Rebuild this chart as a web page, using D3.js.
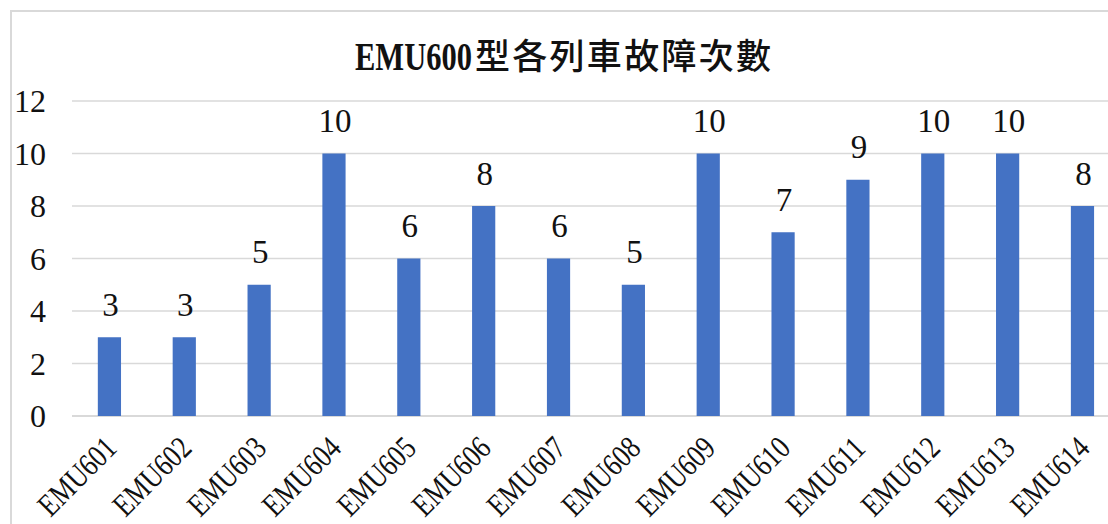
<!DOCTYPE html>
<html>
<head>
<meta charset="utf-8">
<script src="https://cdn.jsdelivr.net/npm/d3@7"></script>
<style>
  html, body { margin: 0; padding: 0; background: #fff; overflow: hidden; }
  svg { display: block; }
</style>
</head>
<body>
<svg id="chart" width="1108" height="524"></svg>
<script>
const titleLatin = "EMU600";
const titleCJK = "型各列車故障次數";
const categories = ["EMU601","EMU602","EMU603","EMU604","EMU605","EMU606","EMU607","EMU608","EMU609","EMU610","EMU611","EMU612","EMU613","EMU614"];
const failures = [3,3,5,10,6,8,6,5,10,7,9,10,10,8];
const yTicks = [0,2,4,6,8,10,12];

const svg = d3.select("#chart");
const W = 1108, H = 524;
const serif = "'Liberation Serif','DejaVu Serif',serif";
const cjk = "'Noto Sans CJK TC','Noto Sans CJK SC',sans-serif";

// outer frame (chart area continues beyond the window)
svg.append("path")
  .attr("d", `M11,${H} L11,11 L${W},11`)
  .attr("fill", "none")
  .attr("stroke", "#d9d9d9")
  .attr("stroke-width", 2);

const plotLeft = 72, step = 74.85;
const x = d3.scaleBand()
  .domain(categories)
  .range([plotLeft, plotLeft + step * categories.length])
  .paddingInner(0.69)
  .paddingOuter(0.345);
const y = d3.scaleLinear().domain([0, 12]).range([416, 101]);

// gridlines
svg.append("g").selectAll("line")
  .data(yTicks)
  .join("line")
  .attr("x1", plotLeft)
  .attr("x2", W)
  .attr("y1", d => y(d))
  .attr("y2", d => y(d))
  .attr("stroke", "#d9d9d9")
  .attr("stroke-width", d => d === 0 ? 2 : 1.5);

// half-width text helper
function halfText(g, str, size, anchorEndX, baseY, opts = {}) {
  const len = str.length * size * 0.5;
  return g.append("text")
    .attr("x", anchorEndX - len)
    .attr("y", baseY)
    .attr("font-family", serif)
    .attr("font-size", size)
    .attr("font-weight", opts.weight || "normal")
    .attr("fill", "#111")
    .attr("textLength", len)
    .attr("lengthAdjust", "spacingAndGlyphs")
    .text(str);
}

// y tick labels
const yg = svg.append("g");
yTicks.forEach(t => {
  halfText(yg, String(t), 32, 46, y(t) + 11);
});

// bars
svg.append("g").selectAll("rect")
  .data(categories)
  .join("rect")
  .attr("x", d => x(d))
  .attr("y", (d, i) => y(failures[i]))
  .attr("width", x.bandwidth())
  .attr("height", (d, i) => y(0) - y(failures[i]))
  .attr("fill", "#4472C4");

// data labels
const lg = svg.append("g");
categories.forEach((c, i) => {
  const s = String(failures[i]);
  const size = 33;
  const len = s.length * size * 0.5;
  const cx = x(c) + x.bandwidth() / 2 + 1;
  halfText(lg, s, size, cx + len / 2, y(failures[i]) - 21.5);
});

// x labels rotated
const xg = svg.append("g");
categories.forEach(c => {
  const cx = x(c) + x.bandwidth() / 2;
  const g = xg.append("g").attr("transform", `translate(${cx + 9},450) rotate(-45)`);
  halfText(g, c, 32, 0, 0);
});

// title
const tSize = 39;
const latinLen = titleLatin.length * tSize * 0.5;
const cjkLen = 300;
const gap = 3;
const total = latinLen + cjkLen + gap;
const tStart = 565 - total / 2;
svg.append("text")
  .attr("x", tStart)
  .attr("y", 69.5)
  .attr("font-family", serif)
  .attr("font-size", tSize)
  .attr("font-weight", "bold")
  .attr("fill", "#111")
  .attr("textLength", latinLen)
  .attr("lengthAdjust", "spacingAndGlyphs")
  .text(titleLatin);
svg.append("text")
  .attr("x", tStart + latinLen + gap)
  .attr("y", 69)
  .attr("font-family", cjk)
  .attr("font-size", 35)
  .attr("font-weight", 500)
  .attr("fill", "#111")
  .attr("textLength", cjkLen - 4)
  .attr("lengthAdjust", "spacing")
  .text(titleCJK);
</script>
</body>
</html>
